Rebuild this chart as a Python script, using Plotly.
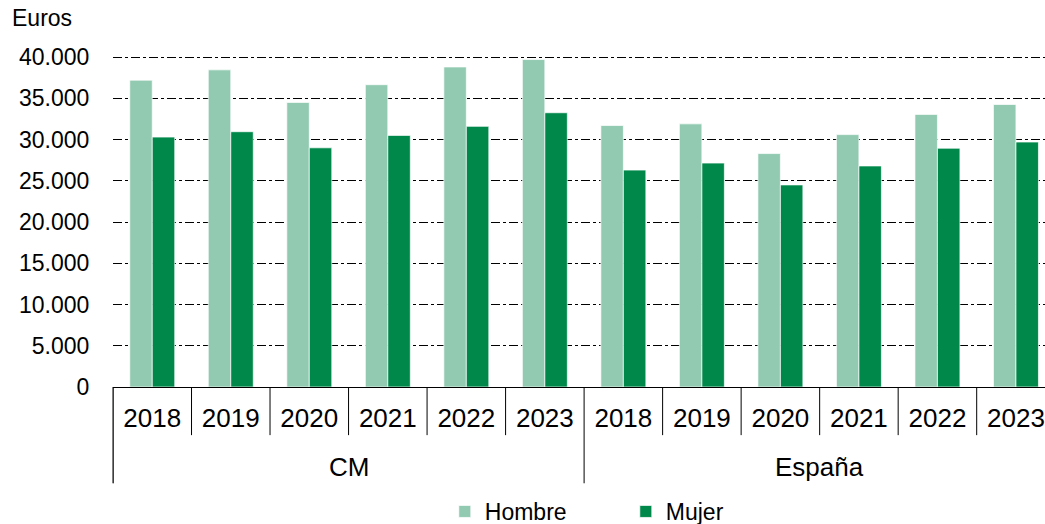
import plotly.graph_objects as go

# data
years = ["2018", "2019", "2020", "2021", "2022", "2023"]
regions = ["CM", "España"]
hombre = [37200, 38450, 34500, 36650, 38800, 39700,
          31700, 31900, 28300, 30600, 33050, 34250]
mujer = [30300, 30950, 29000, 30500, 31600, 33250,
         26300, 27150, 24500, 26800, 28950, 29700]

year_labels = years * len(regions)
xpos = list(range(len(year_labels)))

font = "Liberation Sans, Arial, sans-serif"
col_h = "#92CAB1"
col_m = "#00884B"

fig = go.Figure()
fig.add_trace(go.Bar(x=xpos, y=hombre, name="Hombre", marker_color=col_h,
                     marker_line=dict(color="rgba(255,255,255,0.7)", width=1)))
fig.add_trace(go.Bar(x=xpos, y=mujer, name="Mujer", marker_color=col_m,
                     marker_line=dict(color="rgba(255,255,255,0.7)", width=1)))

fig.update_layout(
    width=1045, height=524,
    margin=dict(l=113, r=0, t=55, b=137, autoexpand=False),
    plot_bgcolor="white", paper_bgcolor="white",
    barmode="group", bargap=0.427, bargroupgap=0,
    separators=",.",
    font=dict(family=font, size=23, color="black"),
    showlegend=True,
    legend=dict(orientation="h", x=0.356, xanchor="left", y=-0.375, yanchor="middle",
                entrywidth=136, font=dict(size=23), traceorder="normal"),
)

fig.update_yaxes(range=[0, 40250], tickvals=list(range(0, 40001, 5000)), tickformat=",d",
                 showgrid=True, gridcolor="black", gridwidth=0.8, griddash="dashdot",
                 zeroline=False, showline=False, automargin=False,
                 ticks="outside", ticklen=18, tickcolor="rgba(0,0,0,0)",
                 tickfont=dict(size=23))
fig.update_xaxes(range=[-0.5, 11.37], tickvals=xpos, ticktext=year_labels,
                 tickfont=dict(size=26), ticks="", ticklabelstandoff=8,
                 showgrid=False, zeroline=False, automargin=False,
                 showline=True, linecolor="black", linewidth=1)

# separators between categories and groups
n = len(years)
for i in range(len(year_labels) + 1):
    outer = i % n == 0
    fig.add_shape(type="line", xref="x", yref="paper",
                  x0=i - 0.5, x1=i - 0.5, y0=0, y1=-0.29 if outer else -0.145,
                  line=dict(color="black", width=1))
fig.add_shape(type="line", xref="paper", yref="paper", x0=0, x1=0, y0=0, y1=-0.29,
              line=dict(color="black", width=1))

# group labels
for g, reg in enumerate(regions):
    fig.add_annotation(x=g * n + (n - 1) / 2, xref="x", y=-0.241, yref="paper",
                       text=reg, showarrow=False, font=dict(size=26),
                       xanchor="center", yanchor="middle")

fig.add_annotation(x=-103 / 932, xref="paper", xanchor="left",
                   y=(387 - 18) / 332, yref="paper", yanchor="middle",
                   text="Euros", showarrow=False, font=dict(size=23))

# drop the default page margin so the figure fills the window exactly
fig.write_html("out.html", config={"displayModeBar": False},
               post_script="document.body.style.margin='0';document.body.style.overflow='hidden';")
